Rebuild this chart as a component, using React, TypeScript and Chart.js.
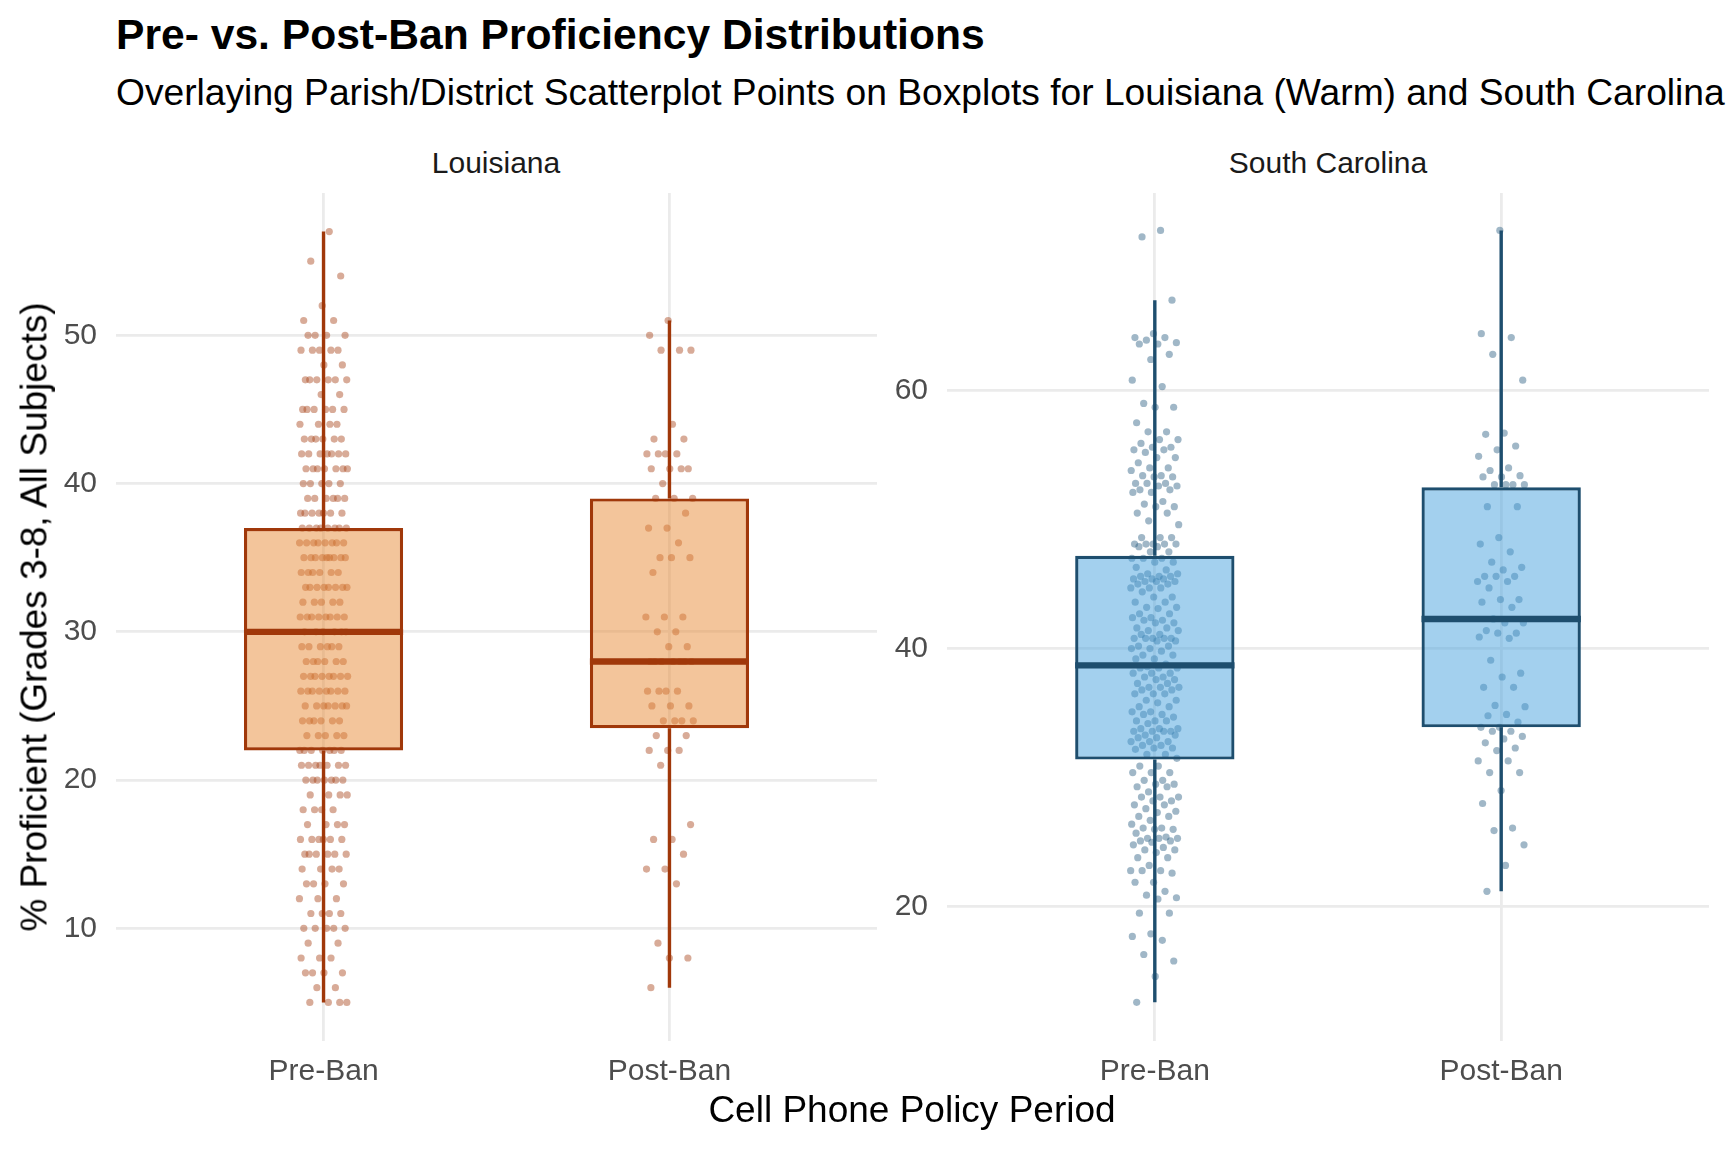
import React, { useEffect, useRef } from 'react';
import { Chart, registerables } from 'chart.js';

Chart.register(...registerables);

const FONT = "'Liberation Sans', Arial, Helvetica, sans-serif";

// ---------- data ----------
const periods = ['Pre-Ban', 'Post-Ban'];
const laYTicks = [10, 20, 30, 40, 50];
const scYTicks = [20, 40, 60];
const laYRange = [2.4, 59.6];
const scYRange = [9.6, 75.3];

// Louisiana pre-ban: integer proficiency levels and how many points sit on each
const laPreLevels = [57, 55, 54, 52, 51, 50, 49, 48, 47, 46, 45, 44, 43, 42, 41, 40, 39, 38, 37, 36, 35, 34, 33, 32, 31, 30, 29, 28, 27, 26, 25, 24, 23, 22, 21, 20, 19, 18, 17, 16, 15, 14, 13, 12, 11, 10, 9, 8, 7, 6, 5];
const laPreCounts = [1, 1, 1, 1, 2, 4, 5, 2, 6, 2, 6, 4, 6, 7, 7, 5, 6, 7, 8, 8, 9, 6, 8, 5, 8, 6, 6, 6, 8, 8, 7, 6, 5, 7, 7, 7, 4, 4, 4, 6, 6, 4, 4, 3, 4, 5, 2, 3, 4, 2, 4];

const laPostValues = [51, 50, 49, 49, 49, 44, 43, 43, 42, 42, 42, 42, 41, 41, 41, 41, 40, 39, 39, 39, 38, 37, 37, 36, 35, 35, 35, 34, 31, 31, 31, 30, 30, 29, 29, 28, 28, 28, 28, 28, 28, 28, 26, 26, 26, 26, 25, 25, 25, 24, 24, 24, 24, 23, 23, 22, 22, 22, 21, 17, 16, 16, 15, 14, 14, 13, 9, 8, 8, 6];

const scPreValues = [
  72.4, 71.9, 67.0, 64.4, 64.1, 64.1, 63.9, 63.7, 63.6, 63.6, 62.8, 62.4, 60.8, 60.3, 59.0, 58.7, 58.7, 57.5, 56.8, 56.8,
  56.2, 56.2, 55.9, 55.6, 55.6, 55.4, 55.4, 55.2, 54.8, 54.8, 54.4, 54.0, 54.0, 53.8, 53.4, 53.4, 53.3, 53.3, 52.8, 52.8,
  52.8, 52.6, 52.6, 52.3, 52.3, 52.1, 52.1, 51.4, 51.2, 51.0, 51.0, 50.5, 50.5, 49.9, 49.6, 48.6, 48.6, 48.6, 48.1, 48.1,
  48.1, 48.1, 48.1, 47.9, 47.9, 47.5, 47.5, 47.0, 47.0, 47.0, 46.7, 46.7, 46.3, 46.1, 45.8, 45.8, 45.6, 45.6, 45.6, 45.4,
  45.4, 45.4, 45.2, 45.2, 45.2, 45.0, 45.0, 44.7, 44.7, 44.7, 44.4, 44.0, 44.0, 43.6, 43.6, 43.2, 43.2, 43.1, 42.7, 42.7,
  42.4, 42.4, 42.2, 42.2, 42.0, 42.0, 41.6, 41.6, 41.4, 41.4, 41.1, 41.1, 40.8, 40.8, 40.8, 40.8, 40.8, 40.6, 40.6, 40.2,
  40.2, 40.0, 40.0, 39.8, 39.5, 39.5, 39.2, 39.2, 38.8, 38.6, 38.5, 38.5, 38.5, 38.1, 38.1, 38.1, 37.8, 37.8, 37.6, 37.6,
  37.3, 37.3, 37.0, 37.0, 37.0, 36.8, 36.8, 36.5, 36.5, 36.5, 36.0, 36.0, 35.8, 35.5, 35.5, 35.1, 35.1, 34.9, 34.9, 34.7,
  34.4, 34.4, 34.4, 34.2, 33.8, 33.8, 33.8, 33.6, 33.6, 33.6, 33.6, 33.3, 33.3, 33.1, 33.1, 32.8, 32.8, 32.8, 32.5, 32.5,
  32.3, 32.3, 32.2, 31.8, 31.8, 31.5, 30.9, 30.9, 30.4, 30.4, 30.4, 29.8, 29.8, 29.5, 29.5, 29.3, 29.3, 28.9, 28.5, 28.5,
  28.5, 28.2, 28.2, 27.9, 27.9, 27.6, 27.4, 27.3, 27.0, 27.0, 26.7, 26.4, 26.1, 26.1, 26.0, 26.0, 25.7, 25.4, 25.3, 25.3,
  25.3, 25.1, 25.1, 25.0, 24.8, 24.6, 24.4, 24.4, 24.2, 23.8, 23.8, 23.2, 22.8, 22.8, 22.8, 22.6, 21.9, 21.9, 21.2, 20.9,
  20.7, 20.6, 19.5, 19.5, 17.9, 17.7, 17.4, 16.3, 15.8, 14.6, 12.6,
];

const scPostValues = [
  72.4, 64.4, 64.1, 62.8, 60.8, 56.7, 56.6, 55.7, 55.4, 54.9, 54.0, 53.8, 53.4, 53.3, 53.3, 52.7, 52.7, 52.7, 52.7, 51.0,
  51.0, 48.6, 48.1, 47.5, 46.7, 46.3, 46.1, 45.6, 45.6, 45.6, 45.2, 45.2, 44.7, 43.8, 43.8, 43.6, 43.2, 42.3, 42.0, 42.0,
  41.4, 41.2, 41.2, 40.9, 40.8, 39.1, 38.1, 37.8, 37.0, 37.0, 35.6, 35.5, 34.9, 34.8, 34.3, 33.9, 33.9, 33.6, 33.6, 33.2,
  33.0, 32.7, 32.3, 32.1, 31.3, 31.3, 30.4, 30.4, 29.0, 28.0, 26.1, 25.9, 24.8, 23.2, 21.2,
];

// box-plot summaries [Pre-Ban, Post-Ban]
const laLow = [5, 6];
const laQ1 = [22, 23.5];
const laMedian = [30, 28];
const laQ3 = [37, 39];
const laHigh = [57, 51];

const scLow = [12.6, 21.2];
const scQ1 = [31.4, 33.9];
const scMedian = [38.7, 42.3];
const scQ3 = [47.2, 52.5];
const scHigh = [67.0, 72.4];

// ---------- helpers ----------
const BOX_WIDTH = 0.46;
const JITTER = 0.07;
const jitter = (i: number) => ((((i + 1) * 0.6180339887) % 1) - 0.5) * 2 * JITTER;

const expandLevels = (levels: number[], counts: number[]) => {
  const out: number[] = [];
  levels.forEach((lv, i) => {
    for (let k = 0; k < counts[i]; k++) out.push(lv);
  });
  return out;
};

type PanelProps = {
  left: number;
  width: number;
  yAxisWidth: number;
  padRight: number;
  pre: number[];
  post: number[];
  low: number[];
  q1: number[];
  median: number[];
  q3: number[];
  high: number[];
  yRange: number[];
  yTicks: number[];
  pointColor: string;
  fillColor: string;
  lineColor: string;
};

const CANVAS_TOP = 180;
const CANVAS_H = 972;
const PAD_TOP = 13;
const X_AXIS_H = 111;

function Panel(p: PanelProps) {
  const ref = useRef<HTMLCanvasElement | null>(null);
  useEffect(() => {
    if (!ref.current) return;
    const points = [
      ...p.pre.map((v, i) => ({ x: 1 + jitter(i), y: v })),
      ...p.post.map((v, i) => ({ x: 2 + jitter(i + 3), y: v })),
    ];
    const boxes = p.q1.map((q, i) => ({ x: i + 1, y: [q, p.q3[i]] }));
    const whiskers: any[] = [];
    const medians: any[] = [];
    p.low.forEach((lo, i) => {
      const x = i + 1;
      whiskers.push({ x, y: lo }, { x, y: p.q1[i] }, { x, y: null }, { x, y: p.q3[i] }, { x, y: p.high[i] }, { x, y: null });
      medians.push({ x: x - BOX_WIDTH / 2, y: p.median[i] }, { x: x + BOX_WIDTH / 2, y: p.median[i] }, { x, y: null });
    });

    const grid = { color: '#EBEBEB', lineWidth: 2.8, drawTicks: false, offset: false };
    const tickFont = { family: FONT, size: 30 };

    const chart = new Chart(ref.current, {
      type: 'scatter',
      data: {
        datasets: [
          {
            type: 'scatter',
            data: points,
            pointRadius: 3.6,
            pointHoverRadius: 3.6,
            pointBackgroundColor: p.pointColor,
            pointBorderWidth: 0,
            order: 3,
          } as any,
          {
            type: 'bar',
            data: boxes,
            backgroundColor: p.fillColor,
            borderColor: p.lineColor,
            borderWidth: 3.2,
            borderSkipped: false,
            barPercentage: BOX_WIDTH,
            categoryPercentage: 1,
            order: 2,
          } as any,
          {
            type: 'line',
            data: whiskers,
            borderColor: p.lineColor,
            borderWidth: 3.4,
            pointRadius: 0,
            spanGaps: false,
            fill: false,
            borderCapStyle: 'butt',
            order: 1,
          } as any,
          {
            type: 'line',
            data: medians,
            borderColor: p.lineColor,
            borderWidth: 6.4,
            pointRadius: 0,
            spanGaps: false,
            fill: false,
            borderCapStyle: 'butt',
            order: 0,
          } as any,
        ],
      },
      options: {
        animation: false,
        responsive: false,
        maintainAspectRatio: false,
        events: [],
        layout: { padding: { left: 0, top: PAD_TOP, right: p.padRight, bottom: 0 } },
        plugins: { legend: { display: false }, tooltip: { enabled: false }, title: { display: false } },
        scales: {
          x: {
            type: 'linear',
            min: 0.4,
            max: 2.6,
            offset: false,
            grid,
            border: { display: false },
            ticks: {
              font: tickFont,
              color: '#4D4D4D',
              padding: 13,
              maxRotation: 0,
              autoSkip: false,
              callback: (_v: any, idx: number) => periods[idx],
            },
            afterBuildTicks: (s: any) => {
              s.ticks = periods.map((_, i) => ({ value: i + 1 }));
            },
            afterFit: (s: any) => {
              s.height = X_AXIS_H;
              s.paddingLeft = 0;
              s.paddingRight = 0;
            },
          },
          y: {
            type: 'linear',
            min: p.yRange[0],
            max: p.yRange[1],
            beginAtZero: false,
            grid,
            border: { display: false },
            ticks: { font: tickFont, color: '#4D4D4D', padding: 19, autoSkip: false },
            afterBuildTicks: (s: any) => {
              s.ticks = p.yTicks.map((v) => ({ value: v }));
            },
            afterFit: (s: any) => {
              s.width = p.yAxisWidth;
              s.paddingTop = 0;
              s.paddingBottom = 0;
            },
          },
        },
      } as any,
    });
    return () => chart.destroy();
  }, []);

  return (
    <canvas
      ref={ref}
      width={p.width}
      height={CANVAS_H}
      style={{ position: 'absolute', left: p.left, top: CANVAS_TOP, width: p.width, height: CANVAS_H }}
    />
  );
}

const text = (extra: React.CSSProperties): React.CSSProperties => ({
  position: 'absolute',
  fontFamily: FONT,
  whiteSpace: 'nowrap',
  margin: 0,
  ...extra,
});

export default function App() {
  const laPreValues = expandLevels(laPreLevels, laPreCounts);
  return (
    <div
      style={{
        position: 'absolute',
        left: 0,
        top: 0,
        width: 1728,
        height: 1152,
        background: '#FFFFFF',
        overflow: 'hidden',
      }}
    >
      <div style={text({ left: 116, top: 13, fontSize: 42.6, lineHeight: '42.6px', fontWeight: 'bold', color: '#000' })}>
        Pre- vs. Post-Ban Proficiency Distributions
      </div>
      <div style={text({ left: 116, top: 74, fontSize: 37.2, lineHeight: '37.2px', color: '#000' })}>
        Overlaying Parish/District Scatterplot Points on Boxplots for Louisiana (Warm) and South Carolina
      </div>
      <div style={text({ left: 496, top: 148, fontSize: 30, lineHeight: '30px', color: '#1A1A1A', transform: 'translateX(-50%)' })}>
        Louisiana
      </div>
      <div style={text({ left: 1328, top: 148, fontSize: 30, lineHeight: '30px', color: '#1A1A1A', transform: 'translateX(-50%)' })}>
        South Carolina
      </div>

      <Panel
        left={0}
        width={890}
        yAxisWidth={116}
        padRight={13}
        pre={laPreValues}
        post={laPostValues}
        low={laLow}
        q1={laQ1}
        median={laMedian}
        q3={laQ3}
        high={laHigh}
        yRange={laYRange}
        yTicks={laYTicks}
        pointColor="rgba(168, 68, 26, 0.45)"
        fillColor="rgba(231, 139, 55, 0.5)"
        lineColor="#A0380A"
      />
      <Panel
        left={880}
        width={848}
        yAxisWidth={67}
        padRight={19}
        pre={scPreValues}
        post={scPostValues}
        low={scLow}
        q1={scQ1}
        median={scMedian}
        q3={scQ3}
        high={scHigh}
        yRange={scYRange}
        yTicks={scYTicks}
        pointColor="rgba(44, 95, 130, 0.45)"
        fillColor="rgba(71, 161, 221, 0.5)"
        lineColor="#1E4E6E"
      />

      <div
        style={text({
          left: 34,
          top: 617,
          fontSize: 37,
          lineHeight: '37px',
          color: '#000',
          transform: 'translate(-50%, -50%) rotate(-90deg)',
        })}
      >
        % Proficient (Grades 3-8, All Subjects)
      </div>
      <div style={text({ left: 912, top: 1091, fontSize: 37, lineHeight: '37px', color: '#000', transform: 'translateX(-50%)' })}>
        Cell Phone Policy Period
      </div>
    </div>
  );
}
